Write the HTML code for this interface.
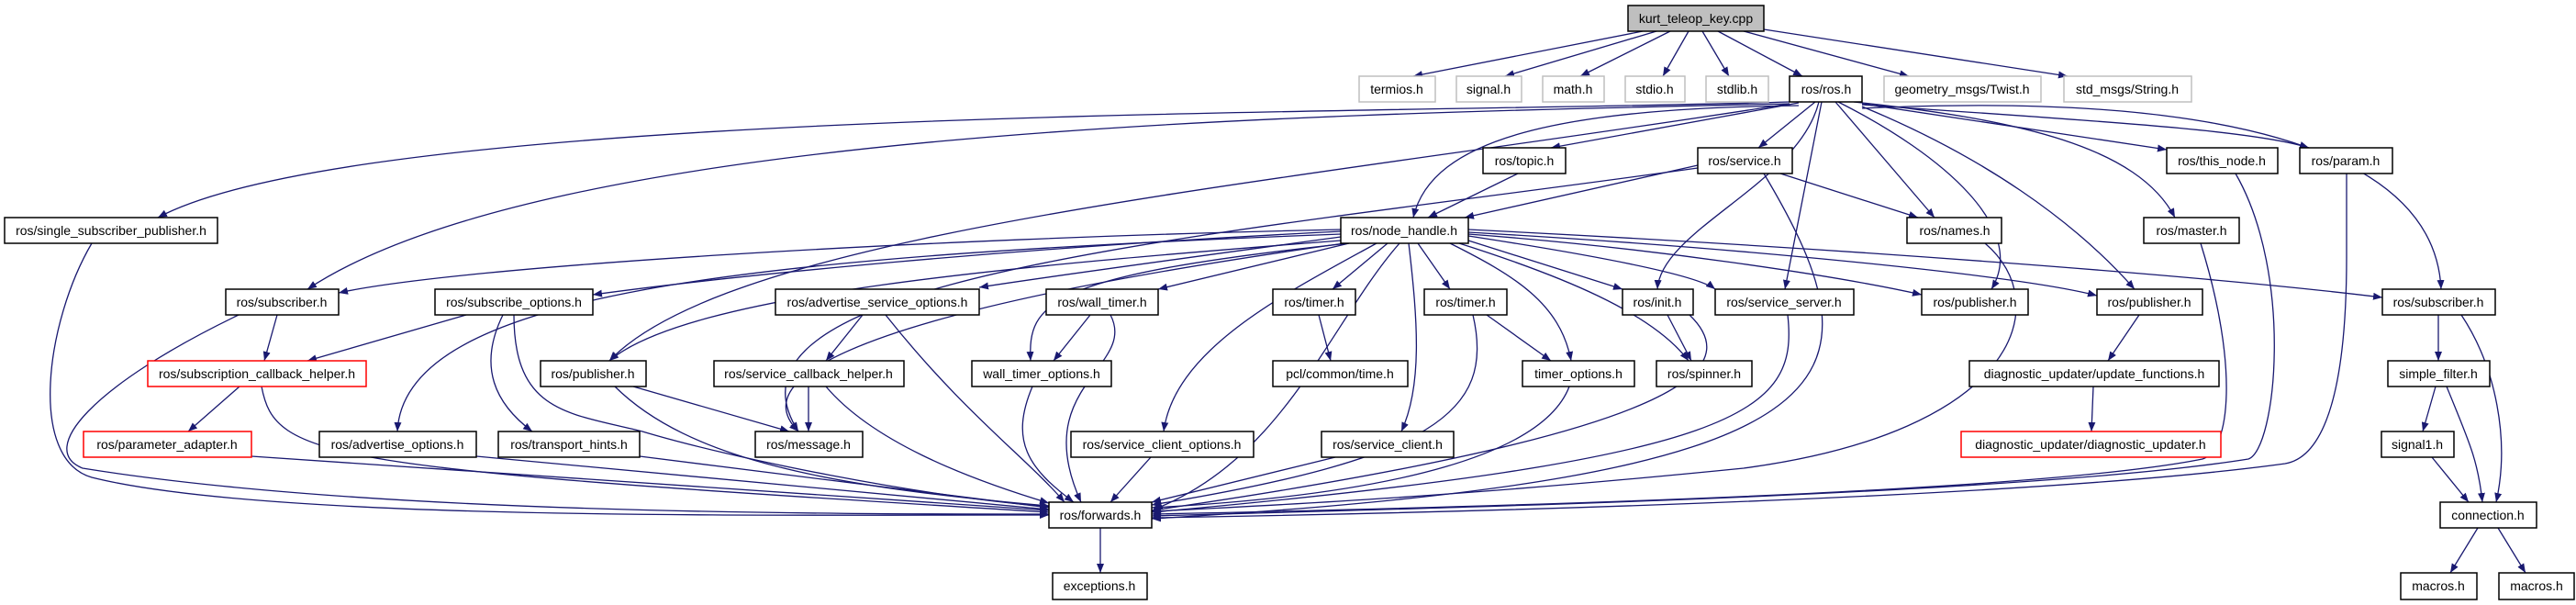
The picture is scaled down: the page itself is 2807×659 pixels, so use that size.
<!DOCTYPE html>
<html><head><meta charset="utf-8"><style>
html,body{margin:0;padding:0;background:#fff;}
svg{display:block;}
text{font-family:"Liberation Sans",sans-serif;font-size:14px;fill:#000;}
.e{fill:none;stroke:#191970;stroke-width:1.3;marker-end:url(#a);}
.b{fill:#fff;stroke:#000;stroke-width:1.5;}
.g{fill:#fff;stroke:#bfbfbf;stroke-width:1.5;}
.r{fill:#fff;stroke:#ff0000;stroke-width:1.5;}
</style></head><body>
<svg width="2807" height="659" viewBox="0 0 2807 659" xmlns="http://www.w3.org/2000/svg">
<defs><marker id="a" markerUnits="userSpaceOnUse" markerWidth="11" markerHeight="8" refX="10" refY="4" orient="auto"><path d="M0,0 L10,4 L0,8 z" fill="#191970"/></marker></defs>
<g>
<!-- kurt edges -->
<path class="e" d="M1790,34 L1540,83"/><path class="e" d="M1805,34 L1640,83"/><path class="e" d="M1820,34 L1722,83"/><path class="e" d="M1840,34 L1812,83"/><path class="e" d="M1855,34 L1884,83"/><path class="e" d="M1872,34 L1964,83"/><path class="e" d="M1900,34 L2080,83"/><path class="e" d="M1922,32 L2253,83"/>
<!-- ros.h edges -->
<path class="e" d="M1950,111 C1500,125 400,115 172,237"/>
<path class="e" d="M1950,113 C1400,125 600,140 335,315"/>
<path class="e" d="M1960,115 C1700,118 1560,150 1540,237"/>
<path class="e" d="M1960,112 L1690,161"/>
<path class="e" d="M1978,111 L1916,161"/>
<path class="e" d="M1950,113 C1400,200 800,250 664,393"/>
<path class="e" d="M1982,111 C1960,200 1810,250 1806,315"/>
<path class="e" d="M1985,111 L1945,315"/>
<path class="e" d="M2000,111 L2108,237"/>
<path class="e" d="M2003,111 C2120,170 2210,250 2170,315"/>
<path class="e" d="M2029,113 L2361,163"/>
<path class="e" d="M2029,114 C2250,130 2450,140 2516,161"/>
<path class="e" d="M2020,111 C2200,130 2330,160 2370,237"/>
<path class="e" d="M2029,116 C2160,170 2260,240 2326,315"/>
<path class="e" d="M2029,118 C2200,110 2650,100 2660,315"/>
<!-- topic/service -->
<path class="e" d="M1654,189 L1556,237"/>
<path class="e" d="M1850,180 L1596,237"/>
<path class="e" d="M1940,189 L2090,237"/>
<path class="e" d="M1922,189 C2060,420 2030,520 1255,565"/>
<path class="e" d="M1850,183 C1300,260 760,300 870,470"/>
<!-- node_handle edges -->
<path class="e" d="M1461,250 C1000,260 500,290 369,319"/>
<path class="e" d="M1461,252 C1100,270 800,300 646,321"/>
<path class="e" d="M1461,258 C1300,280 1150,300 1067,313"/>
<path class="e" d="M1470,265 L1262,315"/>
<path class="e" d="M1512,265 L1452,315"/>
<path class="e" d="M1545,265 L1580,315"/>
<path class="e" d="M1600,262 L1768,315"/>
<path class="e" d="M1600,257 C1750,280 1850,300 1869,315"/>
<path class="e" d="M1600,255 C1800,270 2000,300 2094,321"/>
<path class="e" d="M1600,253 C1900,270 2200,300 2285,322"/>
<path class="e" d="M1600,250 C2000,270 2400,300 2596,324"/>
<path class="e" d="M1461,262 C1100,290 750,320 664,393"/>
<path class="e" d="M1465,265 C1000,330 800,400 870,470"/>
<path class="e" d="M1461,255 C800,280 440,320 433,470"/>
<path class="e" d="M1470,265 C1140,300 1120,330 1123,393"/>
<path class="e" d="M1500,265 C1400,320 1280,380 1268,470"/>
<path class="e" d="M1535,265 C1545,350 1550,420 1527,470"/>
<path class="e" d="M1525,265 C1450,350 1400,500 1257,555"/>
<path class="e" d="M1580,265 C1650,300 1700,330 1712,393"/>
<path class="e" d="M1590,265 C1700,300 1800,340 1840,393"/>
<!-- into forwards -->
<path class="e" d="M100,265 C50,350 30,500 100,520 C300,570 900,560 1143,561"/>
<path class="e" d="M260,343 C100,420 40,490 90,510 C400,560 900,560 1143,560"/>
<path class="e" d="M285,421 C300,500 350,510 1143,558"/>
<path class="e" d="M274,497 L1143,556"/>
<path class="e" d="M519,497 L1143,555"/>
<path class="e" d="M697,497 L1143,553"/>
<path class="e" d="M560,343 C560,450 620,450 700,470 C800,500 1000,540 1143,552"/>
<path class="e" d="M670,421 C750,500 900,530 1143,551"/>
<path class="e" d="M690,421 L860,470"/>
<path class="e" d="M881,421 L881,470"/>
<path class="e" d="M900,421 C950,480 1050,520 1143,548"/>
<path class="e" d="M940,343 L900,393"/>
<path class="e" d="M965,343 C1050,450 1120,500 1160,547"/>
<path class="e" d="M1188,343 L1148,393"/>
<path class="e" d="M1210,343 C1240,400 1120,420 1178,547"/>
<path class="e" d="M1125,421 C1100,480 1120,510 1170,547"/>
<path class="e" d="M1437,343 L1450,393"/>
<path class="e" d="M1620,343 L1690,393"/>
<path class="e" d="M1605,343 C1630,450 1560,500 1255,550"/>
<path class="e" d="M1710,421 C1680,500 1500,540 1255,553"/>
<path class="e" d="M1254,498 L1210,547"/>
<path class="e" d="M1455,498 L1255,547"/>
<path class="e" d="M1817,343 L1843,393"/>
<path class="e" d="M1841,343 C1900,400 1850,470 1255,556"/>
<path class="e" d="M1948,343 C1960,450 1900,500 1255,558"/>
<path class="e" d="M2436,189 C2500,300 2480,490 2450,500 C2200,540 1500,555 1255,562"/>
<path class="e" d="M2557,189 L2557,280 C2557,460 2520,500 2490,505 C2200,545 1500,560 1255,564"/>
<path class="e" d="M2398,265 C2440,400 2430,490 2400,500 C2200,540 1500,555 1255,560"/>
<path class="e" d="M2163,265 C2240,330 2200,470 1900,510 C1600,540 1400,550 1255,557"/>
<path class="e" d="M2331,343 L2297,393"/>
<path class="e" d="M2281,421 L2279,470"/>
<path class="e" d="M2657,343 L2657,393"/>
<path class="e" d="M2682,343 C2720,400 2735,480 2720,547"/>
<path class="e" d="M2654,421 L2640,470"/>
<path class="e" d="M2666,421 C2690,480 2700,500 2705,547"/>
<path class="e" d="M2650,498 L2690,547"/>
<path class="e" d="M2700,575 L2670,624"/>
<path class="e" d="M2722,575 L2752,624"/>
<path class="e" d="M1199,575 L1199,624"/>
<path class="e" d="M302,343 L288,393"/>
<path class="e" d="M508,343 L335,393"/>
<path class="e" d="M548,343 C520,400 540,440 580,470"/>
<path class="e" d="M261,421 L205,470"/>
</g>
<g text-anchor="middle">
<rect x="1774" y="6" width="148" height="28" fill="#bfbfbf" stroke="#000" stroke-width="1.5"/><text x="1848" y="25">kurt_teleop_key.cpp</text>
<rect class="g" x="1481" y="83" width="83" height="28"/><text x="1522" y="102">termios.h</text>
<rect class="g" x="1587" y="83" width="71" height="28"/><text x="1622" y="102">signal.h</text>
<rect class="g" x="1681" y="83" width="67" height="28"/><text x="1714" y="102">math.h</text>
<rect class="g" x="1771" y="83" width="65" height="28"/><text x="1803" y="102">stdio.h</text>
<rect class="g" x="1859" y="83" width="68" height="28"/><text x="1893" y="102">stdlib.h</text>
<rect class="b" x="1950" y="83" width="79" height="28"/><text x="1990" y="102">ros/ros.h</text>
<rect class="g" x="2053" y="83" width="171" height="28"/><text x="2138" y="102">geometry_msgs/Twist.h</text>
<rect class="g" x="2249" y="83" width="139" height="28"/><text x="2318" y="102">std_msgs/String.h</text>
<rect class="b" x="1616" y="161" width="90" height="28"/><text x="1661" y="180">ros/topic.h</text>
<rect class="b" x="1850" y="161" width="103" height="28"/><text x="1901" y="180">ros/service.h</text>
<rect class="b" x="2361" y="161" width="121" height="28"/><text x="2421" y="180">ros/this_node.h</text>
<rect class="b" x="2506" y="161" width="101" height="28"/><text x="2556" y="180">ros/param.h</text>
<rect class="b" x="5" y="237" width="232" height="28"/><text x="121" y="256">ros/single_subscriber_publisher.h</text>
<rect class="b" x="1461" y="237" width="139" height="28"/><text x="1530" y="256">ros/node_handle.h</text>
<rect class="b" x="2078" y="237" width="103" height="28"/><text x="2130" y="256">ros/names.h</text>
<rect class="b" x="2336" y="237" width="104" height="28"/><text x="2388" y="256">ros/master.h</text>
<rect class="b" x="246" y="315" width="123" height="28"/><text x="307" y="334">ros/subscriber.h</text>
<rect class="b" x="474" y="315" width="172" height="28"/><text x="560" y="334">ros/subscribe_options.h</text>
<rect class="b" x="845" y="315" width="222" height="28"/><text x="956" y="334">ros/advertise_service_options.h</text>
<rect class="b" x="1140" y="315" width="122" height="28"/><text x="1201" y="334">ros/wall_timer.h</text>
<rect class="b" x="1387" y="315" width="90" height="28"/><text x="1432" y="334">ros/timer.h</text>
<rect class="b" x="1552" y="315" width="90" height="28"/><text x="1597" y="334">ros/timer.h</text>
<rect class="b" x="1768" y="315" width="77" height="28"/><text x="1806" y="334">ros/init.h</text>
<rect class="b" x="1869" y="315" width="151" height="28"/><text x="1944" y="334">ros/service_server.h</text>
<rect class="b" x="2094" y="315" width="116" height="28"/><text x="2152" y="334">ros/publisher.h</text>
<rect class="b" x="2285" y="315" width="115" height="28"/><text x="2342" y="334">ros/publisher.h</text>
<rect class="b" x="2596" y="315" width="123" height="28"/><text x="2657" y="334">ros/subscriber.h</text>
<rect class="r" x="161" y="393" width="238" height="28"/><text x="280" y="412">ros/subscription_callback_helper.h</text>
<rect class="b" x="589" y="393" width="115" height="28"/><text x="646" y="412">ros/publisher.h</text>
<rect class="b" x="778" y="393" width="207" height="28"/><text x="881" y="412">ros/service_callback_helper.h</text>
<rect class="b" x="1059" y="393" width="152" height="28"/><text x="1135" y="412">wall_timer_options.h</text>
<rect class="b" x="1387" y="393" width="147" height="28"/><text x="1460" y="412">pcl/common/time.h</text>
<rect class="b" x="1659" y="393" width="122" height="28"/><text x="1720" y="412">timer_options.h</text>
<rect class="b" x="1805" y="393" width="104" height="28"/><text x="1857" y="412">ros/spinner.h</text>
<rect class="b" x="2146" y="393" width="272" height="28"/><text x="2282" y="412">diagnostic_updater/update_functions.h</text>
<rect class="b" x="2602" y="393" width="111" height="28"/><text x="2657" y="412">simple_filter.h</text>
<rect class="r" x="91" y="470" width="183" height="28"/><text x="182" y="489">ros/parameter_adapter.h</text>
<rect class="b" x="348" y="470" width="171" height="28"/><text x="433" y="489">ros/advertise_options.h</text>
<rect class="b" x="543" y="470" width="154" height="28"/><text x="620" y="489">ros/transport_hints.h</text>
<rect class="b" x="823" y="470" width="117" height="28"/><text x="881" y="489">ros/message.h</text>
<rect class="b" x="1167" y="470" width="199" height="28"/><text x="1266" y="489">ros/service_client_options.h</text>
<rect class="b" x="1440" y="470" width="144" height="28"/><text x="1512" y="489">ros/service_client.h</text>
<rect class="r" x="2137" y="470" width="283" height="28"/><text x="2278" y="489">diagnostic_updater/diagnostic_updater.h</text>
<rect class="b" x="2595" y="470" width="79" height="28"/><text x="2634" y="489">signal1.h</text>
<rect class="b" x="1143" y="547" width="112" height="28"/><text x="1199" y="566">ros/forwards.h</text>
<rect class="b" x="2659" y="547" width="105" height="28"/><text x="2711" y="566">connection.h</text>
<rect class="b" x="1147" y="624" width="103" height="29"/><text x="1198" y="643">exceptions.h</text>
<rect class="b" x="2616" y="624" width="83" height="29"/><text x="2657" y="643">macros.h</text>
<rect class="b" x="2723" y="624" width="82" height="29"/><text x="2764" y="643">macros.h</text>
</g>
</svg>
</body></html>
